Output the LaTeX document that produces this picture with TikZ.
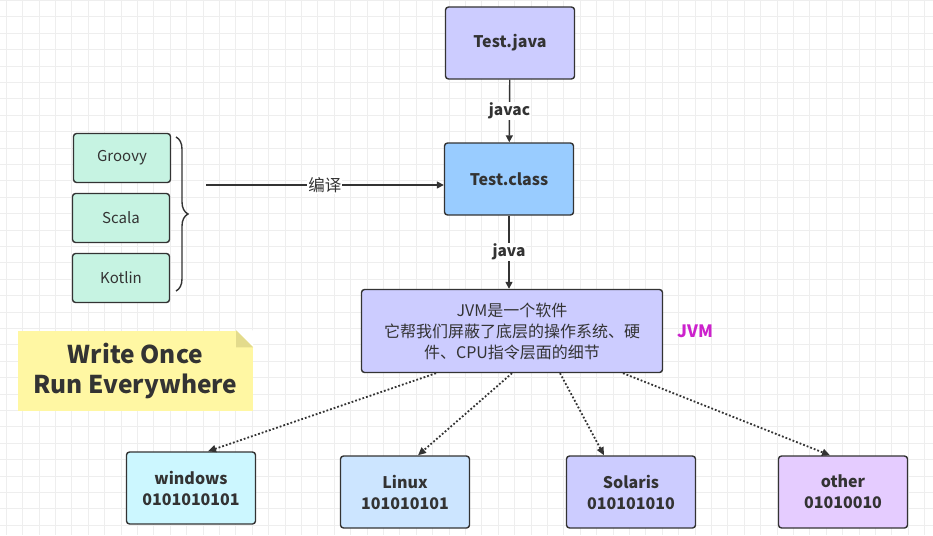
\documentclass[tikz,border=0pt]{standalone}
\usepackage{fontspec}
\setmainfont{Noto Sans CJK SC}
\usetikzlibrary{arrows.meta,positioning,decorations.pathreplacing}

\definecolor{txt}{HTML}{333333}
\definecolor{gridc}{HTML}{EEEEEE}
\definecolor{javac}{HTML}{CCCCFF}
\definecolor{classc}{HTML}{99CCFF}
\definecolor{langc}{HTML}{C6F3E2}
\definecolor{winc}{HTML}{CCF7FF}
\definecolor{linc}{HTML}{CCE5FF}
\definecolor{solc}{HTML}{CCCCFF}
\definecolor{othc}{HTML}{E5CCFF}
\definecolor{notec}{HTML}{FFF7A3}
\definecolor{foldc}{HTML}{E3DB8C}
\definecolor{jvmc}{HTML}{CC22CC}

\begin{document}
\begin{tikzpicture}[
    x=1pt, y=-1pt,
    box/.style={draw=txt, rounded corners=3pt, line width=1.4pt, align=center, text=txt,
      minimum width=129pt, minimum height=72pt, font=\fontsize{16}{21}\selectfont\bfseries},
    lang/.style={box, fill=langc, minimum width=97pt, minimum height=49pt,
      font=\fontsize{15}{18}\selectfont},
    arr/.style={draw=txt, line width=1.4pt, -{Triangle[length=7pt,width=7pt]}},
    dots/.style={draw=txt, line width=1.8pt, dotted, -{Triangle[length=8pt,width=7pt]}},
    lbl/.style={fill=white, inner sep=1pt, text=txt, font=\fontsize{15.5}{18}\selectfont\bfseries}
  ]
    \useasboundingbox (0,0) rectangle (933,535);
    % grid
    \foreach \i in {0,...,57} \draw[gridc, line width=0.8pt] (6.1+16.4*\i,0) -- (6.1+16.4*\i,535);
    \foreach \j in {0,...,33} \draw[gridc, line width=0.8pt] (0,0.4+16.4*\j) -- (933,0.4+16.4*\j);

    \node[box, fill=javac] (java) at (510,43) {Test.java};
    \node[box, fill=classc] (class) at (509,179) {Test.class};
    \node[box, fill=javac, minimum width=301pt, minimum height=83pt,
      font=\fontsize{16}{21}\selectfont] (jvm) at (512,331)
      {JVM是一个软件\\它帮我们屏蔽了底层的操作系统、硬\\件、CPU指令层面的细节};
    \node[text=jvmc, font=\fontsize{17}{20}\selectfont\bfseries] (jvmlbl) at (695,331) {JVM};

    \node[lang] (groovy) at (122,158) {Groovy};
    \node[lang] (scala) at (121,218) {Scala};
    \node[lang] (kotlin) at (121,278) {Kotlin};

    \node[box, fill=winc] (win) at (191,488) {windows\\0101010101};
    \node[box, fill=linc] (linux) at (405,492) {Linux\\101010101};
    \node[box, fill=solc] (solaris) at (631,492) {Solaris\\010101010};
    \node[box, fill=othc] (other) at (843,492) {other\\01010010};

    % note
    \node[fill=notec, minimum width=235pt, minimum height=80pt, align=center, text=txt,
      font=\fontsize{24.5}{30}\selectfont\bfseries] (note) at (135.5,370.5) {Write Once\\Run Everywhere};
    \fill[white] (note.north east) ++(-17,0) -- (note.north east) -- ++(0,17) -- cycle;
    \fill[foldc] (note.north east) ++(-17,0) -- ++(17,17) -- ++(-17,0) -- cycle;

    % brace
    \draw[txt, line width=1.4pt, decorate, decoration={brace, amplitude=12pt}]
      (176,137) -- (176,291) coordinate[pos=0.5] (tip);
    \coordinate (src) at (206,185);

    \draw[arr] (java) -- node[lbl] {javac} (class);
    \draw[arr] (class) -- node[lbl] {java} (jvm.north -| class);
    \draw[arr] (src) -- node[lbl, font=\fontsize{16.5}{18}\selectfont] {编译} (src -| class.west);

    \draw[dots] (jvm.south -| 436,0) -- (win.north -| 208,0);
    \draw[dots] (jvm.south -| 512,0) -- (linux.north -| 418,0);
    \draw[dots] (jvm.south -| 560,0) -- (solaris.north -| 604,0);
    \draw[dots] (jvm.south -| 623,0) -- (other.north -| 830,0);
  \end{tikzpicture}
\end{document}
